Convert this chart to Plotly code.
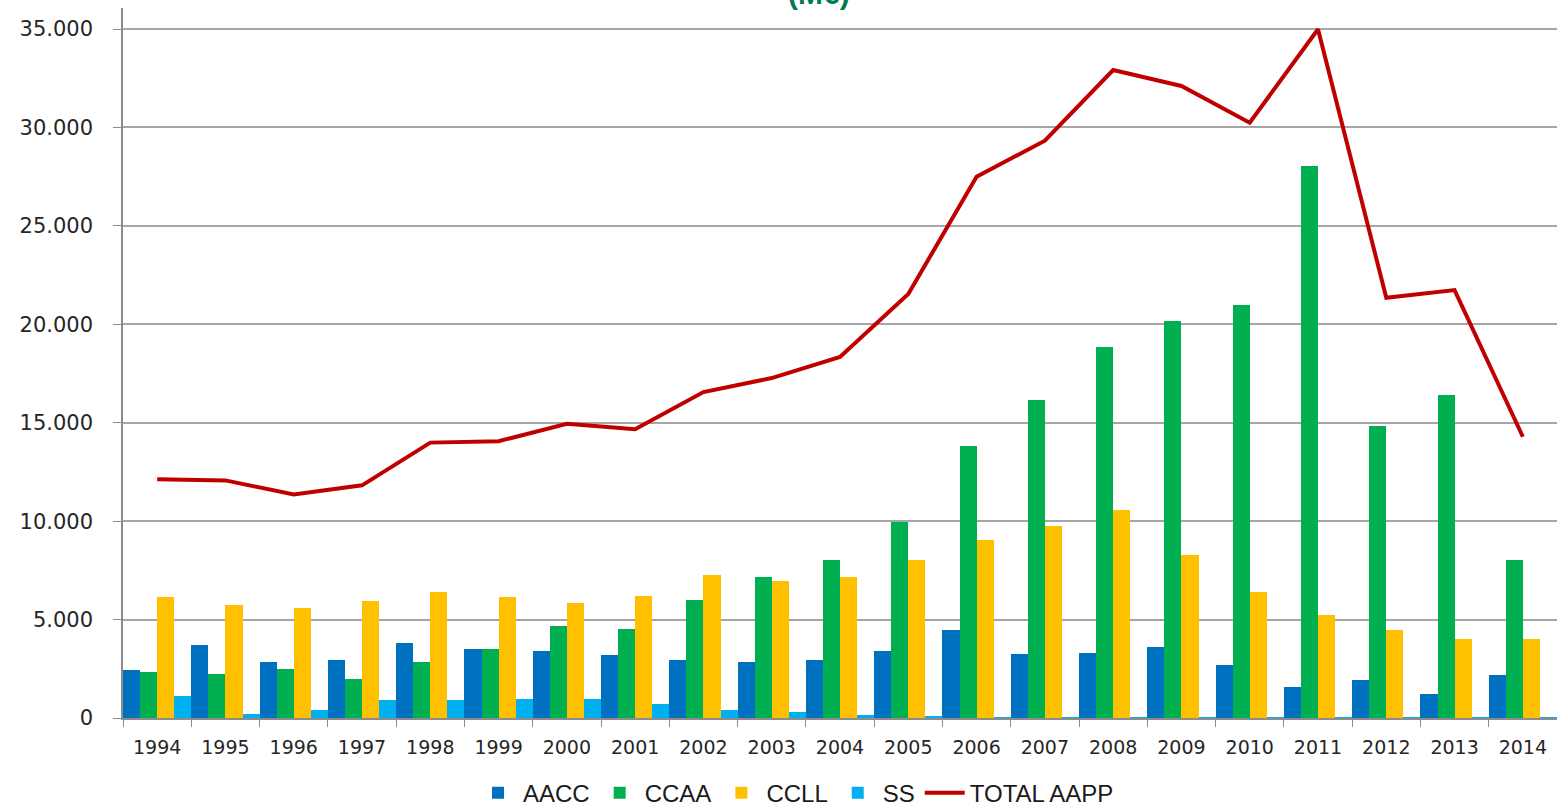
import plotly.graph_objects as go

years = ["1994", "1995", "1996", "1997", "1998", "1999", "2000", "2001", "2002", "2003", "2004",
         "2005", "2006", "2007", "2008", "2009", "2010", "2011", "2012", "2013", "2014"]
aacc = [2420, 3700, 2820, 2950, 3810, 3500, 3420, 3190, 2970, 2830, 2970,
        3390, 4490, 3230, 3300, 3590, 2690, 1570, 1910, 1220, 2190]
ccaa = [2320, 2250, 2480, 2000, 2820, 3500, 4690, 4540, 5980, 7170, 8030,
        9980, 13820, 16150, 18850, 20170, 20980, 28040, 14830, 16420, 8040]
ccll = [6130, 5730, 5580, 5930, 6410, 6130, 5860, 6190, 7270, 6970, 7170,
        8030, 9040, 9740, 10570, 8270, 6420, 5220, 4480, 3990, 3990]
ss = [1100, 180, 400, 890, 890, 960, 960, 690, 420, 290, 140,
      70, 40, 40, 40, 40, 40, 40, 40, 40, 40]
total = [12130, 12070, 11360, 11820, 13990, 14060, 14950, 14670, 16560, 17270, 18340,
         21540, 27500, 29330, 32920, 32110, 30240, 34990, 21350, 21740, 14290]

series = [("AACC", aacc, "#0070C0"), ("CCAA", ccaa, "#00B050"),
          ("CCLL", ccll, "#FFC000"), ("SS", ss, "#00B0F0")]

fig = go.Figure()
for name, vals, col in series:
    fig.add_trace(go.Bar(x=years, y=vals, name=name, marker=dict(color=col, line=dict(width=0))))
fig.add_trace(go.Scatter(x=years, y=total, name="TOTAL AAPP", mode="lines",
                         line=dict(color="#C00000", width=4)))

fig.update_layout(
    width=1557, height=808,
    margin=dict(l=123, r=0, t=8, b=90, autoexpand=False),
    paper_bgcolor="white", plot_bgcolor="white",
    barmode="group", bargap=0, bargroupgap=0,
    separators=",.",
    showlegend=True,
    legend=dict(orientation="h", x=(796 - 123) / 1434, xanchor="center", y=-0.106, yanchor="middle",
                font=dict(family="Liberation Sans, Arial, sans-serif", size=24, color="#1a1a1a"),
                itemwidth=40, tracegroupgap=0),
    font=dict(family="DejaVu Sans", color="#262626"),
)
fig.update_xaxes(type="category", tickson="boundaries", ticks="outside", ticklen=7,
                 tickcolor="#8c8c8c", showline=True, linecolor="#8c8c8c", linewidth=1.5,
                 showgrid=False, tickfont=dict(family="DejaVu Sans", size=19, color="#262626"),
                 ticklabelstandoff=11)
fig.update_yaxes(range=[0, 36070], dtick=5000, tick0=0, tickformat=",d",
                 showgrid=True, gridcolor="#A6A6A6", gridwidth=1.5,
                 showline=True, linecolor="#8c8c8c", linewidth=1.5,
                 ticks="outside", ticklen=8, tickcolor="#8c8c8c",
                 zeroline=False,
                 tickfont=dict(family="DejaVu Sans", size=21, color="#262626"),
                 ticklabelstandoff=16)

fig.add_annotation(text="<b>(M€)</b>", xref="paper", yref="paper", x=(819 - 123) / 1434, y=1,
                   xanchor="center", yanchor="middle", yshift=15, showarrow=False,
                   font=dict(family="Liberation Sans, sans-serif", size=30, color="#007A53"))

fig.write_html("out.html", config={"displayModeBar": False},
               post_script="document.body.style.margin='0';document.body.style.overflow='hidden';")
